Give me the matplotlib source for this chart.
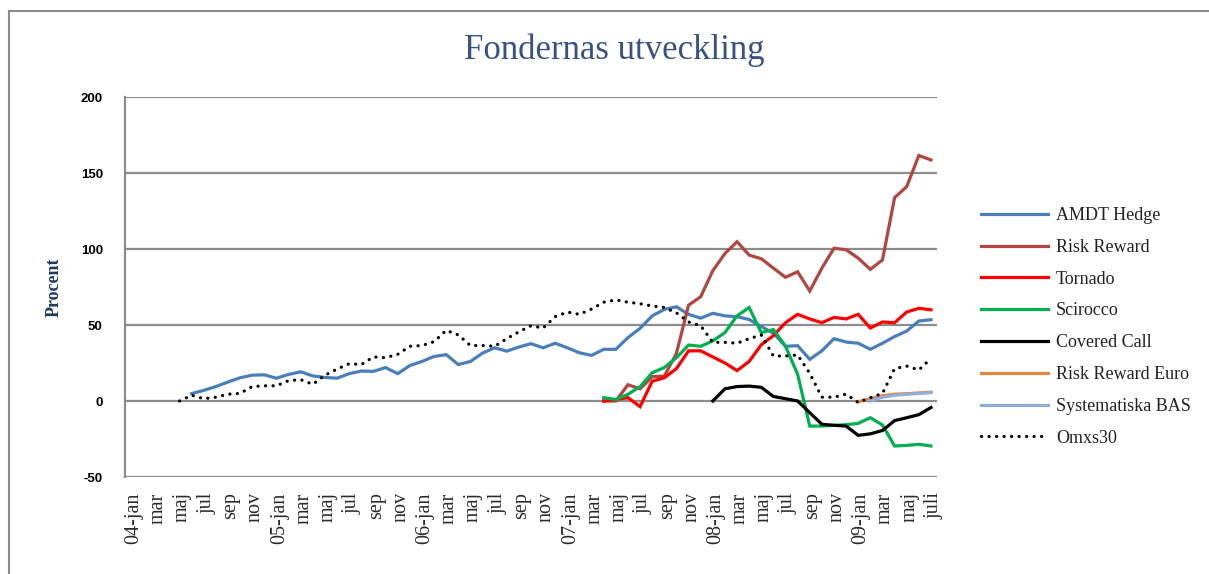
import numpy as np
import matplotlib
matplotlib.use('Agg')
import matplotlib.pyplot as plt
from matplotlib.lines import Line2D
import matplotlib.transforms as mtransforms

nan = np.nan

# 67 monthly categories, Jan 2004 .. Jul 2009
months = ["04-jan", "feb", "mar", "apr", "maj", "jun", "jul", "aug", "sep", "okt", "nov", "dec",
          "05-jan", "feb", "mar", "apr", "maj", "jun", "jul", "aug", "sep", "okt", "nov", "dec",
          "06-jan", "feb", "mar", "apr", "maj", "jun", "jul", "aug", "sep", "okt", "nov", "dec",
          "07-jan", "feb", "mar", "apr", "maj", "jun", "jul", "aug", "sep", "okt", "nov", "dec",
          "08-jan", "feb", "mar", "apr", "maj", "jun", "jul", "aug", "sep", "okt", "nov", "dec",
          "09-jan", "feb", "mar", "apr", "maj", "jun", "juli"]

# series: first month index + monthly values (percent)
amdt_start = 5
amdt = [4.9, 7, 9.5, 12.5, 15.3, 17, 17.2, 15, 17.5, 19.2, 16.5, 15.5, 15, 18, 19.7, 19.5, 22, 18,
        23.3, 26, 29.3, 30.5, 24, 26, 31.5, 35, 32.8, 35.5, 37.7, 35, 38, 35, 31.7, 30, 34, 34,
        41.7, 47.8, 56, 60.3, 62, 57, 54.5, 57.7, 56, 55.5, 53.6, 49, 44.6, 36, 36.4, 27.4, 33,
        41, 38.8, 38, 34, 38, 42.4, 46, 52.6, 53.5]

riskreward_start = 39
riskreward = [0, 0, 10.7, 8, 16, 16.4, 31.4, 63, 68.6, 85.7, 97, 104.8, 96, 93.6, 87.4, 81.4,
              85, 72.4, 87.4, 100.5, 99.5, 94, 86.6, 92.8, 133.8, 141, 161.5, 158.6]

tornado_start = 39
tornado = [0, 1, 2.2, -3.7, 13, 15.3, 21.3, 33, 33, 29, 25, 20, 26, 37, 43, 51.5, 57, 54, 51.5,
           55, 54, 57, 48, 52, 51.5, 58.5, 61, 60]

scirocco_start = 39
scirocco = [2.2, 1, 4.4, 9.4, 18.6, 22, 28.5, 36.8, 36, 39.5, 45, 56, 61.5, 45, 47, 36, 17.6,
            -16.5, -16.5, -16, -15.6, -14.7, -11, -15.8, -29.6, -29.2, -28.5, -29.6]

covered_start = 48
covered = [0, 8, 9.5, 9.8, 9, 3, 1.5, 0, -7.7, -15.3, -16, -16.5, -22.6, -21.6, -19.4, -12.9,
           -11, -9, -4.3]

rreuro_start = 60
rreuro = [-0.5, 1.5, 3.5, 4.5, 4.8, 5.3, 5.8]

sysbas_start = 61
sysbas = [0, 2.5, 3.8, 4.4, 5, 5.5]

omx_start = 4
omx = [0, 3.8, 1.5, 2.5, 4.5, 5, 9.5, 10, 10, 13.4, 14, 11, 17, 21, 24.5, 24, 29, 28.5, 30.7,
       36, 36.5, 39, 46.5, 43.5, 36.5, 36.5, 36, 41, 45.5, 49.5, 48, 55.5, 58.5, 57, 60.5, 65,
       66.5, 65, 64, 62.5, 61.5, 58, 52, 49.5, 38.6, 38.6, 38, 41, 43.4, 29.6, 29.6, 30.3, 18.2,
       2.5, 2.5, 4.5, -1, 2.2, 5, 21.3, 23, 20.4, 28]

series = [
    ("AMDT Hedge", amdt_start, amdt, "#4A7EBB", "-"),
    ("Risk Reward", riskreward_start, riskreward, "#B04641", "-"),
    ("Tornado", tornado_start, tornado, "#FF0000", "-"),
    ("Scirocco", scirocco_start, scirocco, "#00B050", "-"),
    ("Covered Call", covered_start, covered, "#000000", "-"),
    ("Risk Reward Euro", rreuro_start, rreuro, "#E2873F", "-"),
    ("Systematiska BAS", sysbas_start, sysbas, "#93AED6", "-"),
    ("Omxs30", omx_start, omx, "#000000", ":"),
]

yticks = [-50, 0, 50, 100, 150, 200]
title = "Fondernas utveckling"
ylabel = "Procent"

W, H = 1209, 574
fig = plt.figure(figsize=(W / 100, H / 100), dpi=100)
ax = fig.add_axes([125 / W, 1 - 477 / H, (937 - 125) / W, (477 - 97) / H])

serif = ["Liberation Serif", "DejaVu Serif"]
handles = []
for name, start, vals, color, ls in series:
    x = np.arange(start, start + len(vals))
    if ls == ":":
        line, = ax.plot(x, vals, color=color, lw=2.3, linestyle=(0, (0.05, 2.3)),
                        dash_capstyle="round", solid_capstyle="round", label=name, zorder=4)
    else:
        line, = ax.plot(x, vals, color=color, lw=2.3, label=name, zorder=3,
                        solid_joinstyle="miter")
    handles.append(line)

ax.set_xlim(-0.5, len(months) - 0.5)
ax.set_ylim(-50, 200)
ax.set_yticks(yticks)
ax.set_yticklabels([str(v) for v in yticks], fontfamily="Liberation Sans",
                   fontweight="bold", fontsize=9.5)
ax.yaxis.grid(True, color="#8C8C8C", lw=1.6, zorder=1)
ax.set_axisbelow(True)
for s in ["top", "right", "bottom"]:
    ax.spines[s].set_visible(False)
ax.spines["left"].set_color("#8C8C8C")
ax.spines["left"].set_linewidth(1.6)
ax.tick_params(axis="both", length=0)
ax.tick_params(axis="y", pad=16)

tick_pos = list(range(0, len(months), 2))
ax.set_xticks(tick_pos)
ax.set_xticklabels([months[i] for i in tick_pos], rotation=90, fontfamily=serif,
                   fontsize=14.5, color="#2A2A2A")
ax.tick_params(axis="x", pad=11)
offset = mtransforms.ScaledTranslation(3 / 100, 0, fig.dpi_scale_trans)
for lab in ax.get_xticklabels():
    lab.set_transform(lab.get_transform() + offset)

ax.set_ylabel(ylabel, fontfamily=serif, fontweight="bold", fontsize=13, color="#1F3864")
ax.yaxis.set_label_coords(-(125 - 63) / (937 - 125), 0.5)

fig.text(614 / W, 1 - 50 / H, title, ha="center", va="center", fontfamily=serif,
         fontsize=25, color="#3A5283")

leg = fig.legend(handles=handles, loc="upper left", bbox_to_anchor=(972 / W, 1 - 198 / H),
                 frameon=False, prop={"family": serif, "size": 13}, handlelength=3.7,
                 handletextpad=0.45, labelspacing=0.82, borderpad=0)
for t in leg.get_texts():
    t.set_color("#222222")

# outer chart border
fig.add_artist(Line2D([9 / W, 9 / W], [0, 1 - 11 / H], transform=fig.transFigure,
                      color="#8C8C8C", lw=1.5))
fig.add_artist(Line2D([9 / W, 1], [1 - 11 / H, 1 - 11 / H], transform=fig.transFigure,
                      color="#8C8C8C", lw=1.5))

fig.savefig("out.png", dpi=100)
